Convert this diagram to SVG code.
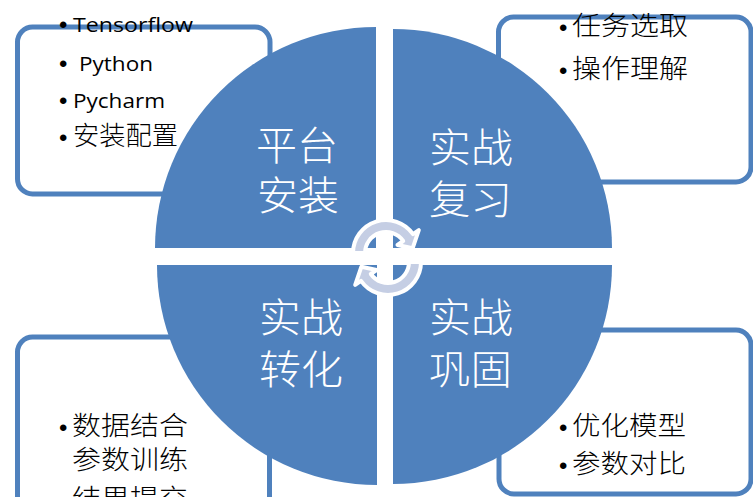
<svg xmlns="http://www.w3.org/2000/svg" width="753" height="497" viewBox="0 0 753 497">
<style>
.box{fill:#fff;stroke:#4F81BD;stroke-width:5}
.q{fill:#4F81BD}
.lat{font-family:"Open Sans","Liberation Sans",sans-serif;font-size:20px;fill:#000}
.bul{font-family:"Liberation Sans",sans-serif;font-size:24px;fill:#000}
.cjk{font-family:"Noto Sans CJK SC","Noto Sans CJK JP",sans-serif;font-size:26px;font-weight:300;fill:#000}
.lbl{font-family:"Noto Sans CJK SC","Noto Sans CJK JP",sans-serif;font-size:40px;font-weight:300;fill:#fff}
.arr{fill:#C5CEE4;stroke:#fff;stroke-width:4;stroke-linejoin:round}
</style>
<rect width="753" height="497" fill="#fff"/>
<g id="box-tl"><rect class="box" x="17.5" y="27" width="252.5" height="167" rx="15"/></g>
<g id="box-tr"><rect class="box" x="498.5" y="17" width="252.5" height="165" rx="15"/></g>
<g id="box-bl"><rect class="box" x="17.5" y="337" width="252" height="175" rx="15"/></g>
<g id="box-br"><rect class="box" x="499" y="330" width="252" height="164" rx="15"/></g>
<g id="quad-tl"><path class="q" d="M376,248 L155,248 A221,221 0 0 1 376,27 Z"/>
<text class="lbl" x="256" y="160" textLength="82" lengthAdjust="spacingAndGlyphs">平台</text>
<text class="lbl" x="257" y="210" textLength="82" lengthAdjust="spacingAndGlyphs">安装</text></g>
<g id="quad-tr"><path class="q" d="M393,248 L393,29 A219,219 0 0 1 612,248 Z"/>
<text class="lbl" x="429" y="162" textLength="84" lengthAdjust="spacingAndGlyphs">实战</text>
<text class="lbl" x="429" y="214" textLength="83" lengthAdjust="spacingAndGlyphs">复习</text></g>
<g id="quad-bl"><path class="q" d="M377,265 L377,485 A220,220 0 0 1 157,265 Z"/>
<text class="lbl" x="259" y="332" textLength="84" lengthAdjust="spacingAndGlyphs">实战</text>
<text class="lbl" x="259" y="384" textLength="84" lengthAdjust="spacingAndGlyphs">转化</text></g>
<g id="quad-br"><path class="q" d="M393,265 L612,265 A219,219 0 0 1 393,484 Z"/>
<text class="lbl" x="429" y="332" textLength="84" lengthAdjust="spacingAndGlyphs">实战</text>
<text class="lbl" x="429" y="384" textLength="83" lengthAdjust="spacingAndGlyphs">巩固</text></g>
<g id="connectors">
<path class="arr" d="M353,253 A33,33 0 0 1 413.0,234.1 L418.8,230.1 L412.6,248.3 L397.5,245.0 L403.2,241.0 A21,21 0 0 0 365,253 Z"/>
<path class="arr" d="M421,262 A33,33 0 0 1 361.0,280.9 L355.2,284.9 L361.4,266.7 L376.5,270.0 L370.8,274.0 A21,21 0 0 0 409,262 Z"/>
</g>
<g id="text-tl">
<text class="bul" x="59" y="33">•</text>
<text class="lat" x="73" y="32" textLength="120" lengthAdjust="spacingAndGlyphs">Tensorflow</text>
<text class="bul" x="59" y="72">•</text>
<text class="lat" x="79" y="71" textLength="74" lengthAdjust="spacingAndGlyphs">Python</text>
<text class="bul" x="59" y="109">•</text>
<text class="lat" x="73" y="108" textLength="92" lengthAdjust="spacingAndGlyphs">Pycharm</text>
<text class="bul" x="59" y="146">•</text>
<text class="cjk" x="73" y="145" textLength="105" lengthAdjust="spacingAndGlyphs">安装配置</text>
</g>
<g id="text-tr">
<text class="bul" x="559" y="36">•</text>
<text class="cjk" x="572" y="35" textLength="116" lengthAdjust="spacingAndGlyphs">任务选取</text>
<text class="bul" x="559" y="79">•</text>
<text class="cjk" x="572" y="78" textLength="116" lengthAdjust="spacingAndGlyphs">操作理解</text>
</g>
<g id="text-bl">
<text class="bul" x="59" y="436">•</text>
<text class="cjk" x="72" y="435" textLength="116" lengthAdjust="spacingAndGlyphs">数据结合</text>
<text class="cjk" x="72" y="469" textLength="116" lengthAdjust="spacingAndGlyphs">参数训练</text>
<text class="bul" x="59" y="509">•</text>
<text class="cjk" x="72" y="508" textLength="116" lengthAdjust="spacingAndGlyphs">结果提交</text>
</g>
<g id="text-br">
<text class="bul" x="559" y="436">•</text>
<text class="cjk" x="572" y="435" textLength="114" lengthAdjust="spacingAndGlyphs">优化模型</text>
<text class="bul" x="559" y="474">•</text>
<text class="cjk" x="572" y="473" textLength="114" lengthAdjust="spacingAndGlyphs">参数对比</text>
</g>
</svg>
